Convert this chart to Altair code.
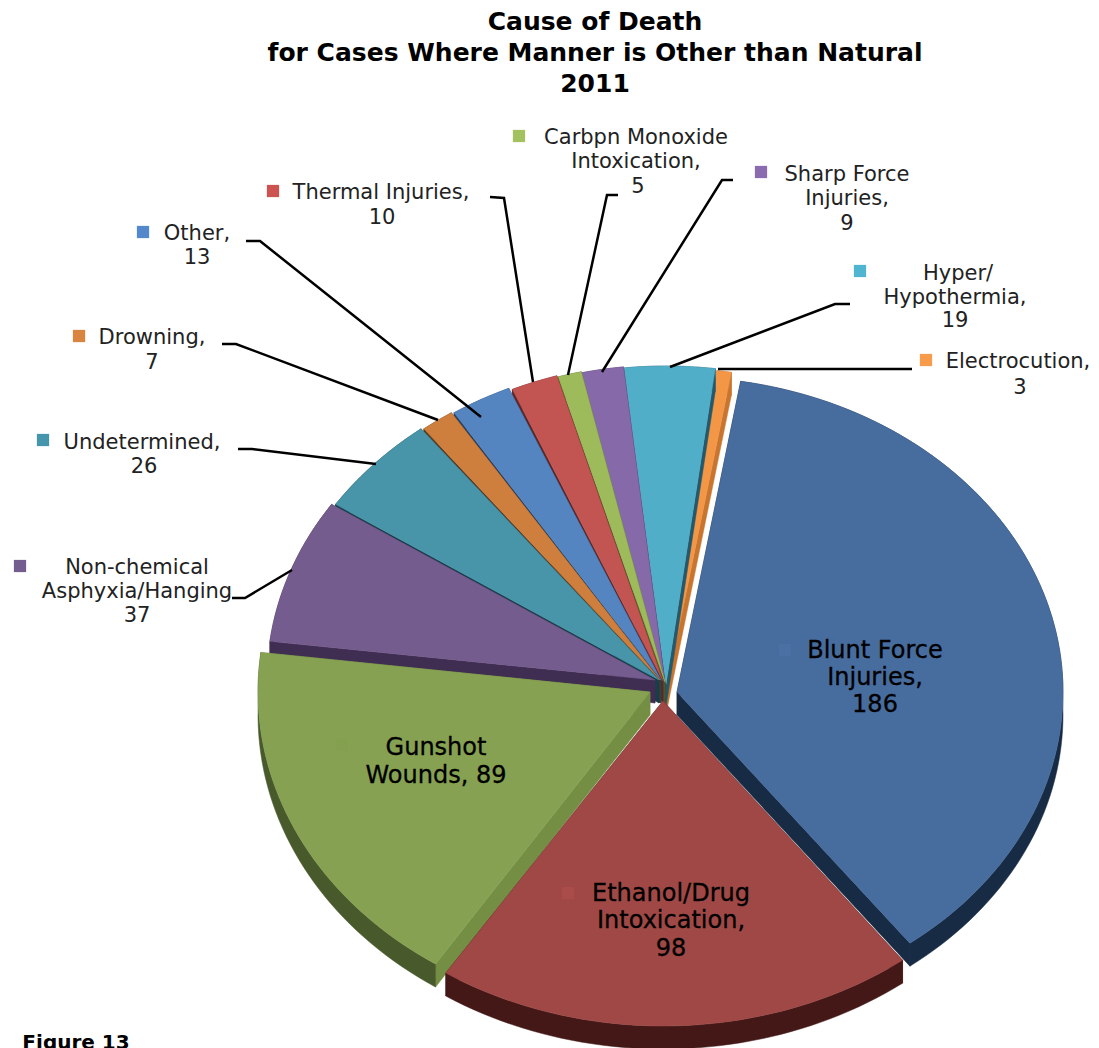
import math
import altair as alt
import pandas as pd

categories = ["Blunt Force Injuries", "Ethanol/Drug Intoxication", "Gunshot Wounds",
              "Non-chemical Asphyxia/Hanging", "Undetermined", "Drowning", "Other",
              "Thermal Injuries", "Carbpn Monoxide Intoxication", "Sharp Force Injuries",
              "Hyper/Hypothermia", "Electrocution"]
counts = [186, 98, 89, 37, 26, 7, 13, 10, 5, 9, 19, 3]
top_colors = ["#476C9E", "#A04846", "#86A152", "#745C8E", "#4895AA", "#CE7F3E",
              "#5485C0", "#C25552", "#9DBB5B", "#8669A8", "#50AEC8", "#F39646"]
radial_colors = ["#182B44", "#431816", "#748F44", "#402D52", "#163F4C", "#5E3A1A",
                 "#27405F", "#5D2726", "#4C5B2B", "#3F3152", "#25586A", "#C87530"]
outer_colors = ["#182B44", "#431816", "#48592B", "#402D52", "#163F4C", "#5E3A1A",
                "#27405F", "#5D2726", "#4C5B2B", "#3F3152", "#25586A", "#C87530"]
centers_x = [677, 663, 650, 655, 659, 660, 661, 663, 665, 665, 666, 667]
centers_y = [692, 701, 692, 680, 680, 680, 680, 681, 682, 683, 684, 686]
radii_x = [386, 397, 392, 388, 388, 385, 382, 378, 380, 380, 385, 390]
radii_y = [315, 325, 325, 318, 318, 318, 318, 318, 318, 318, 318, 318]
draw_order = [11, 10, 9, 8, 7, 6, 5, 4, 3, 2, 1, 0]
DEPTH, ROT = 23, 9.5

label_lines = [
    ("Cause of Death", 595, 22, 25, "bold", "#000"),
    ("for Cases Where Manner is Other than Natural", 595, 53, 25, "bold", "#000"),
    ("2011", 595, 84, 25, "bold", "#000"),
    ("Carbpn Monoxide", 636, 138, 21, "normal", "#222"),
    ("Intoxication,", 636, 162, 21, "normal", "#222"),
    ("5", 638, 187, 21, "normal", "#222"),
    ("Sharp Force", 847, 175, 21, "normal", "#222"),
    ("Injuries,", 847, 199, 21, "normal", "#222"),
    ("9", 847, 224, 21, "normal", "#222"),
    ("Hyper/", 958, 274, 21, "normal", "#222"),
    ("Hypothermia,", 955, 298, 21, "normal", "#222"),
    ("19", 955, 321, 21, "normal", "#222"),
    ("Electrocution,", 1018, 362, 21, "normal", "#222"),
    ("3", 1020, 388, 21, "normal", "#222"),
    ("Thermal Injuries,", 381, 193, 21, "normal", "#222"),
    ("10", 382, 218, 21, "normal", "#222"),
    ("Other,", 197, 234, 21, "normal", "#222"),
    ("13", 197, 258, 21, "normal", "#222"),
    ("Drowning,", 152, 338, 21, "normal", "#222"),
    ("7", 152, 363, 21, "normal", "#222"),
    ("Undetermined,", 142, 443, 21, "normal", "#222"),
    ("26", 144, 467, 21, "normal", "#222"),
    ("Non-chemical", 137, 568, 21, "normal", "#222"),
    ("Asphyxia/Hanging", 137, 592, 21, "normal", "#222"),
    ("37", 137, 616, 21, "normal", "#222"),
    ("Blunt Force", 875, 651, 24, "normal", "#000"),
    ("Injuries,", 875, 678, 24, "normal", "#000"),
    ("186", 875, 705, 24, "normal", "#000"),
    ("Gunshot", 436, 748, 24, "normal", "#000"),
    ("Wounds, 89", 436, 776, 24, "normal", "#000"),
    ("Ethanol/Drug", 671, 894, 24, "normal", "#000"),
    ("Intoxication,", 671, 921, 24, "normal", "#000"),
    ("98", 671, 949, 24, "normal", "#000"),
    ("Figure 13", 76, 1043, 20, "bold", "#000"),
]
marker_x = [785, 568, 342, 20, 43, 79, 143, 273, 519, 761, 860, 926]
marker_y = [650, 893, 745, 566, 440, 336, 232, 191, 136, 172, 271, 360]
marker_colors = ["#4A70A4", "#A94C4A", "#82A04E", "#745C8E", "#4596AC", "#D9843F",
                 "#5488CC", "#CC5350", "#A3C25F", "#8A6BAF", "#4FB5D1", "#F89B4A"]
leaders = [
    [(490, 197), (504, 198), (533, 382)],
    [(246, 241), (260, 241), (481, 417)],
    [(222, 344), (236, 344), (438, 420)],
    [(238, 449), (252, 449), (376, 464)],
    [(232, 598), (245, 598), (292, 570)],
    [(618, 195), (607, 195), (568, 375)],
    [(733, 180), (722, 180), (602, 372)],
    [(850, 304), (835, 304), (670, 367)],
    [(912, 369), (718, 369)],
]

X = alt.Scale(domain=[8, 1091], nice=False, zero=False)
Y = alt.Scale(domain=[1048, 8], nice=False, zero=False)


def rim(k, deg):
    a = math.radians(deg)
    return centers_x[k] + radii_x[k] * math.sin(a), centers_y[k] - radii_y[k] * math.cos(a)


def poly(points, color):
    df = pd.DataFrame(points + points[:1], columns=["x", "y"])
    df["i"] = range(len(df))
    return alt.Chart(df).mark_line(fill=color, stroke=color, strokeWidth=0.5).encode(
        x=alt.X("x:Q", scale=X, axis=None),
        y=alt.Y("y:Q", scale=Y, axis=None),
        order="i:Q",
    )


total = sum(counts)
starts, run = [], ROT
for c in counts:
    starts.append(run)
    run += c / total * 360

layers = []
for k in draw_order:
    a0, a1 = starts[k], starts[k] + counts[k] / total * 360
    cx, cy = centers_x[k], centers_y[k]
    n = max(3, int((a1 - a0) / 1.5))
    arc = [rim(k, a0 + (a1 - a0) * j / n) for j in range(n + 1)]
    low = [(x, y + DEPTH) for x, y in arc]
    for end in (arc[0], arc[-1]):
        layers.append(poly([(cx, cy), end, (end[0], end[1] + DEPTH), (cx, cy + DEPTH)], radial_colors[k]))
    layers.append(poly(arc + low[::-1], outer_colors[k]))
    layers.append(poly([(cx, cy)] + arc, top_colors[k]))

for pts in leaders:
    df = pd.DataFrame(pts, columns=["x", "y"])
    df["i"] = range(len(df))
    layers.append(alt.Chart(df).mark_line(color="#000", strokeWidth=2.5).encode(
        x=alt.X("x:Q", scale=X, axis=None), y=alt.Y("y:Q", scale=Y, axis=None), order="i:Q"))

mk = pd.DataFrame({"x": marker_x, "y": marker_y, "c": marker_colors, "cat": categories, "n": counts})
layers.append(alt.Chart(mk).mark_square(size=150, opacity=1).encode(
    x=alt.X("x:Q", scale=X, axis=None), y=alt.Y("y:Q", scale=Y, axis=None),
    color=alt.Color("c:N", scale=None)))

for text, x, y, size, weight, col in label_lines:
    props = dict(text=text, font="DejaVu Sans", fontSize=size, fontWeight=weight, color=col,
                 align="center", baseline="middle")
    if size == 24:
        props.update(stroke="#000", strokeWidth=0.3)
    layers.append(alt.Chart(pd.DataFrame({"x": [x], "y": [y]})).mark_text(**props).encode(
        x=alt.X("x:Q", scale=X, axis=None), y=alt.Y("y:Q", scale=Y, axis=None)))

chart = alt.layer(*layers).properties(
    width=1083, height=1040, padding=0, autosize=alt.AutoSizeParams(type="none"),
).configure_view(stroke=None).resolve_scale(color="independent")
chart.save("out.html", embed_options={"renderer": "svg", "actions": False})
